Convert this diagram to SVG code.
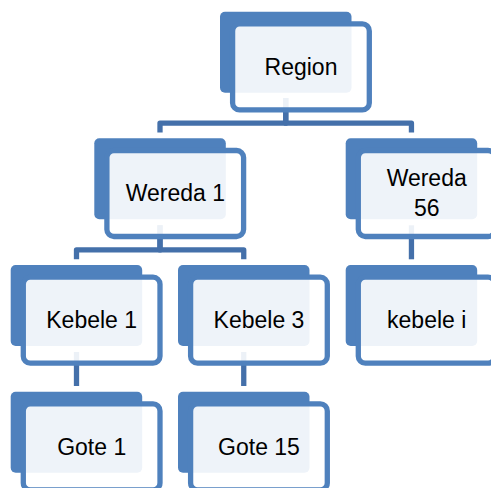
<svg xmlns="http://www.w3.org/2000/svg" width="491" height="488" viewBox="0 0 491 488">
<style>
.back{fill:#4F81BD}
.front{fill:#FFFFFF;fill-opacity:0.9;stroke:#4F81BD;stroke-width:5.3}
.lbl{font-family:"Liberation Sans",Arial,sans-serif;font-size:23px;fill:#000;text-anchor:middle}
.conn{fill:none;stroke:#4470AA;stroke-width:5.3;stroke-linejoin:round}
</style>
<rect width="491" height="488" fill="#FFFFFF"/>
<g id="connectors">
<path class="conn" d="M285.75,98 V123.2 H160 V132.5"/>
<path class="conn" d="M285.75,98 V123.2 H411.45 V132.5"/>
<path class="conn" d="M160,225.3 V249.9 H76.5 V259.3"/>
<path class="conn" d="M160,225.3 V249.9 H243.75 V259.3"/>
<path class="conn" d="M411.45,225.3 V259.3"/>
<path class="conn" d="M76.5,352 V386"/>
<path class="conn" d="M243.75,352 V386"/>
</g>
<g id="region">
<rect class="back" x="220" y="11.7" width="131.5" height="81" rx="5"/>
<rect class="front" x="232.6" y="23.9" width="136.7" height="86" rx="7"/>
<text class="lbl" x="301" y="74.5">Region</text>
</g>
<g id="wereda1">
<rect class="back" x="94.3" y="138.3" width="131.5" height="81" rx="5"/>
<rect class="front" x="106.9" y="150.5" width="136.7" height="86" rx="7"/>
<text class="lbl" x="175.3" y="201">Wereda 1</text>
</g>
<g id="wereda56">
<rect class="back" x="345.7" y="138.3" width="131.5" height="81" rx="5"/>
<rect class="front" x="358.3" y="150.5" width="136.7" height="86" rx="7"/>
<text class="lbl" x="426.7" y="186">Wereda</text>
<text class="lbl" x="426.7" y="216">56</text>
</g>
<g id="kebele1">
<rect class="back" x="10.7" y="265" width="131.5" height="81" rx="5"/>
<rect class="front" x="23.3" y="277.2" width="136.7" height="86" rx="7"/>
<text class="lbl" x="91.7" y="328">Kebele 1</text>
</g>
<g id="kebele3">
<rect class="back" x="178" y="265" width="131.5" height="81" rx="5"/>
<rect class="front" x="190.6" y="277.2" width="136.7" height="86" rx="7"/>
<text class="lbl" x="259" y="328">Kebele 3</text>
</g>
<g id="kebelei">
<rect class="back" x="345.7" y="265" width="131.5" height="81" rx="5"/>
<rect class="front" x="358.3" y="277.2" width="136.7" height="86" rx="7"/>
<text class="lbl" x="426.7" y="328">kebele i</text>
</g>
<g id="gote1">
<rect class="back" x="10.7" y="391.7" width="131.5" height="81" rx="5"/>
<rect class="front" x="23.3" y="403.9" width="136.7" height="86" rx="7"/>
<text class="lbl" x="91.7" y="454.5">Gote 1</text>
</g>
<g id="gote15">
<rect class="back" x="178" y="391.7" width="131.5" height="81" rx="5"/>
<rect class="front" x="190.6" y="403.9" width="136.7" height="86" rx="7"/>
<text class="lbl" x="259" y="454.5">Gote 15</text>
</g>
</svg>
